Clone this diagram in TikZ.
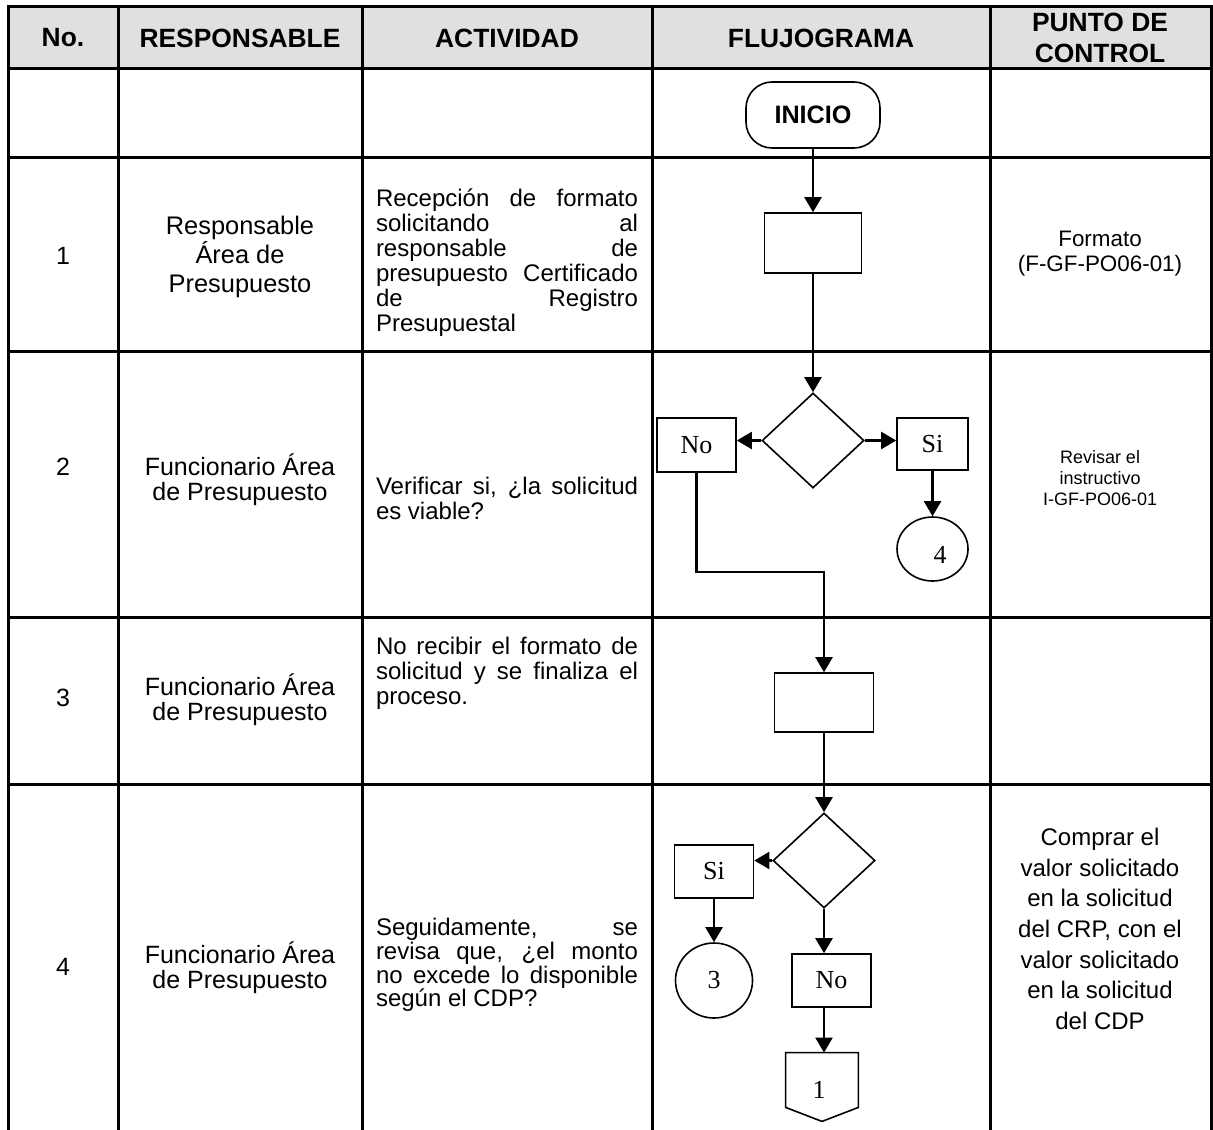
\documentclass[tikz,border=0pt]{standalone}
\usepackage{fontspec}
\setmainfont{Liberation Sans}
\newfontfamily\tms{Liberation Serif}
\usetikzlibrary{arrows.meta,shapes.geometric,calc}
\definecolor{hdrgray}{RGB}{224,224,224}
\begin{document}
\begin{tikzpicture}[x=0.5pt,y=-0.5pt,
  grid/.style={line width=1.5pt, line cap=rect},
  hdr/.style={font=\fontsize{13.2}{15.5}\selectfont\bfseries, align=center, inner sep=0},
  txt/.style={font=\fontsize{12.5}{12.5}\selectfont, align=center, inner sep=0},
  ctl/.style={font=\fontsize{11.2}{12.5}\selectfont, align=center, inner sep=0},
  act/.style={font=\fontsize{12}{12.5}\selectfont, align=justify, text width=131pt, inner sep=0},
  shp/.style={draw, line width=0.8pt, inner sep=0, font=\tms\fontsize{13}{13}\selectfont},
  conn/.style={line width=1.1pt, -{Triangle[length=7.5pt,width=8.5pt]}},
  plainline/.style={line width=1.1pt}
]
\useasboundingbox (0,0) rectangle (1213,1129);
% header fill
\fill[hdrgray] (8,7) rectangle (1211,69);
% grid
\foreach \x in {8,118,362,652,990,1211} \draw[grid] (\x,7) -- (\x,1129);
\foreach \y in {7,69,157,351,617,784} \draw[grid] (8,\y) -- (1211,\y);

% header texts
\node[hdr] (h0) at (63,38) {No.};
\node[hdr] (h1) at (240,38) {RESPONSABLE};
\node[hdr] (h2) at (507,38) {ACTIVIDAD};
\node[hdr] (h3) at (821,38) {FLUJOGRAMA};
\node[hdr] (h4) at (1100,38) {PUNTO DE\\CONTROL};

% row 1
\node[txt] (n1) at (63,256) {1};
\node[txt, font=\fontsize{12.7}{14.5}\selectfont] (r1) at (240,257) {Responsable\\Área de\\Presupuesto};
\node[act] (a1) at (507,263) {Recepción de formato\linebreak solicitando al\linebreak responsable de\linebreak presupuesto Certificado\linebreak de Registro\linebreak Presupuestal};
\node[ctl] (c1) at (1100,254) {Formato\\(F-GF-PO06-01)};

% row 2
\node[txt] (n2) at (63,467) {2};
\node[txt] (r2) at (240,480) {Funcionario Área\\de Presupuesto};
\node[act] (a2) at (507,498) {Verificar si, ¿la solicitud\linebreak es viable?};
\node[ctl, font=\fontsize{9}{10.5}\selectfont] (c2) at (1100,478) {Revisar el\\instructivo\\I-GF-PO06-01};

% row 3
\node[txt] (n3) at (63,698) {3};
\node[txt] (r3) at (240,700) {Funcionario Área\\de Presupuesto};
\node[act] (a3) at (507,673) {No recibir el formato de\linebreak solicitud y se finaliza el\linebreak proceso.};

% row 4
\node[txt] (n4) at (63,967) {4};
\node[txt] (r4) at (240,968) {Funcionario Área\\de Presupuesto};
\node[act, font=\fontsize{12}{11.9}\selectfont] (a4) at (507,965) {Seguidamente, se\linebreak revisa que, ¿el monto\linebreak no excede lo disponible\linebreak según el CDP?};
\node[ctl, font=\fontsize{12}{15.35}\selectfont] (c4t) at (1100,929) {Comprar el\\valor solicitado\\en la solicitud\\del CRP, con el\\valor solicitado\\en la solicitud\\del CDP};

% flowchart shapes
\node[draw, line width=0.8pt, rounded corners=13pt, minimum width=67pt, minimum height=33pt, inner sep=0,
      font=\bfseries\fontsize{12.6}{12.6}\selectfont] (inicio) at (813,115) {INICIO};
\node[shp, minimum width=48.5pt, minimum height=30pt] (box1) at (813,243) {};
\node[shp, diamond, minimum width=51pt, minimum height=47.5pt] (dia1) at (813,440.5) {};
\node[shp, minimum width=39.5pt, minimum height=27pt] (no1) at (696.5,445) {No};
\node[shp, minimum width=35.5pt, minimum height=26pt] (si1) at (932.5,444) {Si};
\node[shp, ellipse, minimum width=35.5pt, minimum height=32pt] (circ4) at (932.5,549) {};
\node[shp, draw=none] (t4) at (940,555) {4};
\coordinate (turn1) at (824,572);
\node[shp, minimum width=49.5pt, minimum height=29.5pt] (box3) at (824,702.5) {};
\node[shp, diamond, minimum width=51pt, minimum height=47.5pt] (dia2) at (824,860.5) {};
\node[shp, minimum width=39.5pt, minimum height=26.5pt] (si2) at (714,871.5) {Si};
\node[shp, ellipse, minimum width=38.5pt, minimum height=37.5pt] (circ3) at (714,980.5) {3};
\node[shp, minimum width=39.5pt, minimum height=26.5pt] (no2) at (831.5,980.5) {No};
\node[inner sep=0, minimum width=36pt, minimum height=27pt] (off) at (822,1080) {};
\draw[line width=0.8pt] (off.north west) -- (off.north east) -- (off.south east)
   -- ($(off.south)+(0,14)$) -- (off.south west) -- cycle;
\node[shp, draw=none] (t1) at (819,1090) {1};

% connectors
\draw[conn] (inicio.south) -- (box1.north);
\draw[conn] (box1.south) -- (dia1.north);
\draw[conn] (dia1.west) -- (dia1.west -| no1.east);
\draw[conn] (dia1.east) -- (dia1.east -| si1.west);
\draw[conn] (si1.south) -- (circ4.north);
\draw[conn] (no1.south) |- (turn1) -- (box3.north);
\draw[conn] (box3.south) -- (dia2.north);
\draw[conn] (dia2.west) -- (dia2.west -| si2.east);
\draw[conn] (si2.south) -- (circ3.north);
\draw[conn] (dia2.south) -- (dia2.south |- no2.north);
\draw[conn] (dia2.south |- no2.south) -- (dia2.south |- off.north);
\end{tikzpicture}
\end{document}
